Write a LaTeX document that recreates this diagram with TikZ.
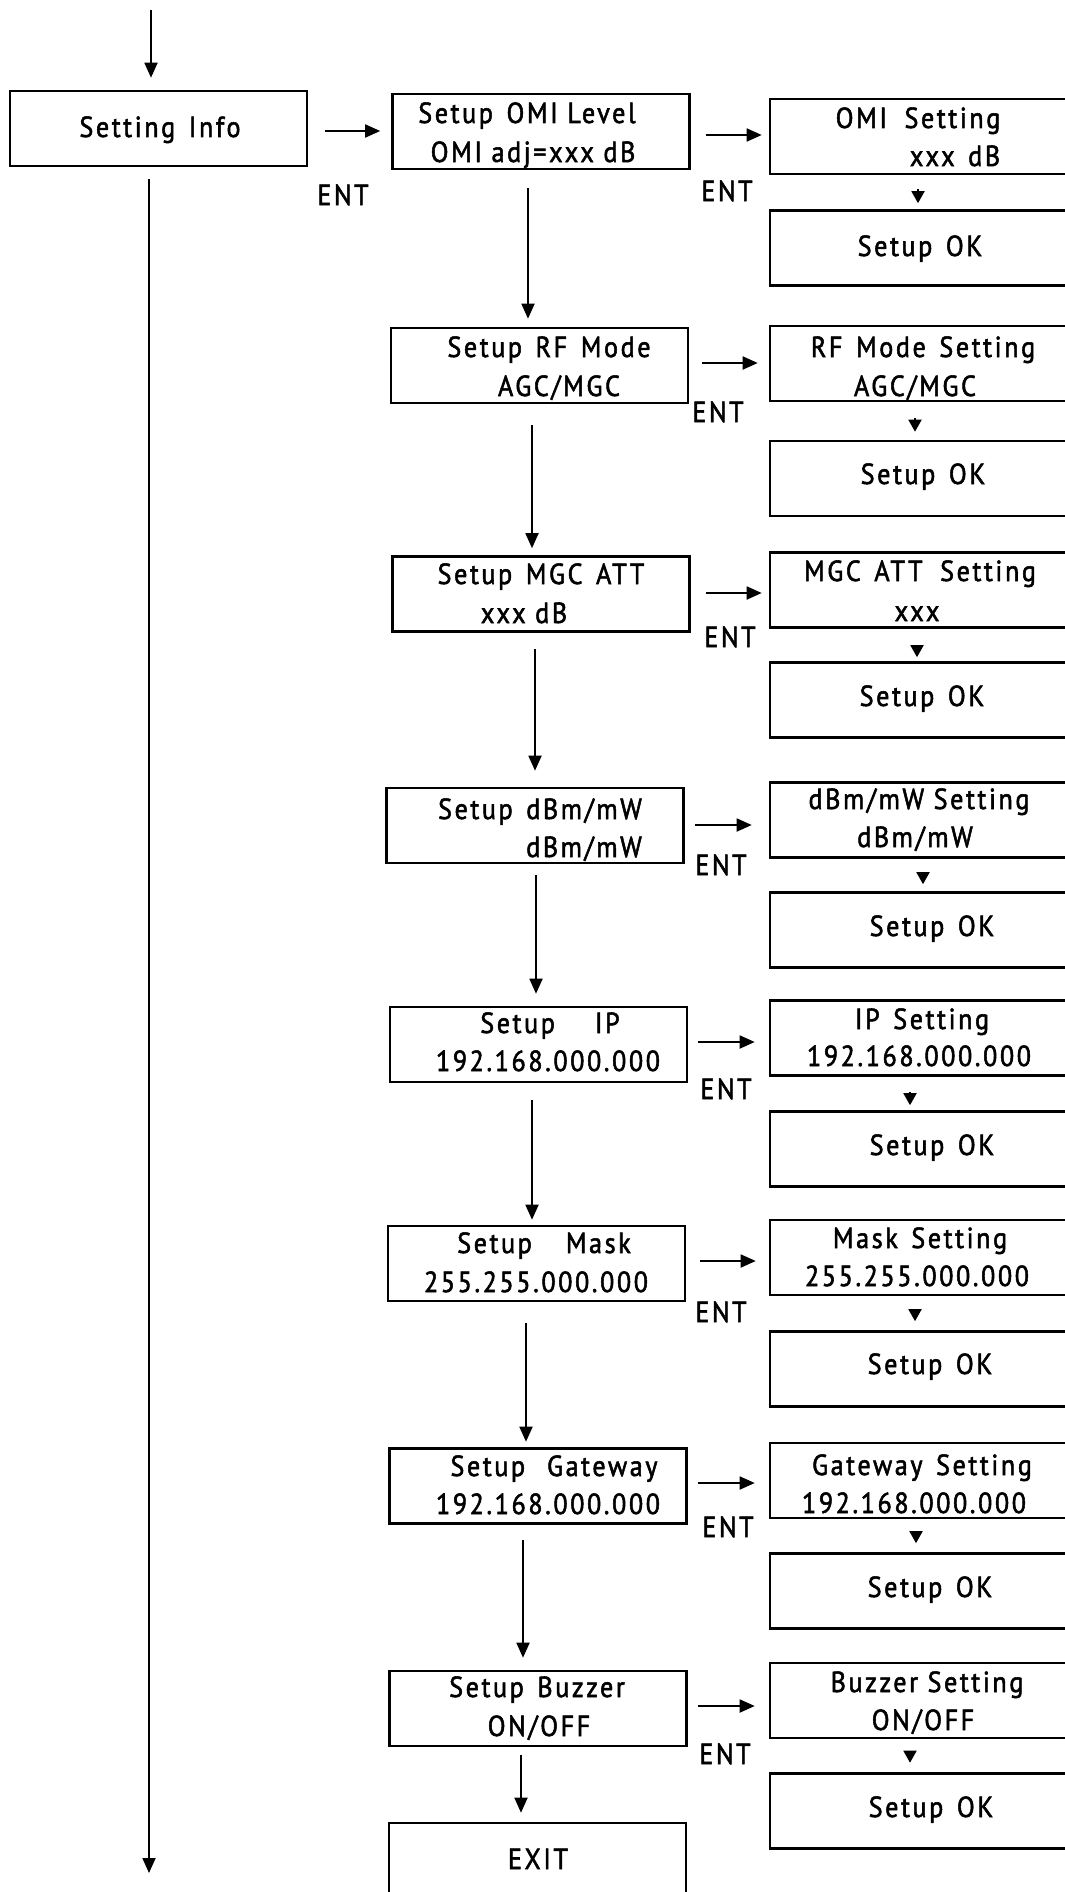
\documentclass[tikz,border=0pt]{standalone}
\usepackage{fontspec}
\setmainfont{PT Sans}[LetterSpace=9,FakeStretch=0.9,FakeBold=1.8]
\usetikzlibrary{arrows.meta}
\newcommand\gp{\hspace{4pt}}
\begin{document}
\begin{tikzpicture}[x=1pt,y=-1pt,
  box/.style={draw, line width=2.6pt, inner sep=0pt, minimum height=75pt},
  lbox/.style={box, minimum width=297pt},
  rbox/.style={box, minimum width=320pt},
  arr/.style={line width=1.8pt, -{Triangle[length=15pt,width=13pt]}},
  sarr/.style={line width=1.8pt, -{Triangle[length=12pt,width=13pt]}},
  txt/.style={anchor=base, inner sep=0pt, font=\fontsize{29}{33}\selectfont},
  ent/.style={txt}]
\useasboundingbox (0,0) rectangle (1065,1892);
\fill[white] (0,0) rectangle (1065,1892);
\clip (0,0) rectangle (1065,1892);

% ---------- left / middle boxes ----------
\node[lbox] (si)   at (158.5,128.5) {};
\node[lbox] (omi)  at (541,131.5) {};
\node[lbox] (rf)   at (539.5,365.5) {};
\node[lbox] (mgc)  at (541,594) {};
\node[lbox] (dbm)  at (535,825.5) {};
\node[lbox] (ip)   at (538.5,1044.5) {};
\node[lbox] (mask) at (536.5,1263.5) {};
\node[lbox] (gw)   at (538,1486) {};
\node[lbox] (buz)  at (538,1708.5) {};
\node[lbox] (exit) at (537.5,1860.5) {};

% ---------- right boxes ----------
\node[rbox] (omis)  at (930,136.5) {};
\node[rbox] (ok1)   at (930,248) {};
\node[rbox] (rfs)   at (930,363.5) {};
\node[rbox] (ok2)   at (930,478.5) {};
\node[rbox] (mgcs)  at (930,590) {};
\node[rbox] (ok3)   at (930,700) {};
\node[rbox] (dbms)  at (930,820) {};
\node[rbox] (ok4)   at (930,930) {};
\node[rbox] (ips)   at (930,1038) {};
\node[rbox] (ok5)   at (930,1149) {};
\node[rbox] (masks) at (930,1257.5) {};
\node[rbox] (ok6)   at (930,1369) {};
\node[rbox] (gws)   at (930,1480.5) {};
\node[rbox] (ok7)   at (930,1591) {};
\node[rbox] (buzs)  at (930,1700.5) {};
\node[rbox] (ok8)   at (930,1811) {};

% ---------- texts ----------
\node[txt] (t-si) at (160,137) {Setting \gp Info};
\node[txt] (t-omi1) at (527,123) {Setup \gp OMI Level};
\node[txt] (t-omi2) at (533,162) {OMI adj=xxx dB};
\node[txt] (t-omis1) at (918,128) {OMI \gp\gp Setting};
\node[txt] (t-omis2) at (955,166) {xxx \gp dB};
\node[txt] (t-ok1) at (920,256) {Setup \gp OK};

\node[txt] (t-rf1) at (549,357) {Setup \gp RF \gp Mode};
\node[txt] (t-rf2) at (559,396) {AGC/MGC};
\node[txt] (t-rfs1) at (923,357) {RF \gp Mode \gp Setting};
\node[txt] (t-rfs2) at (915,396) {AGC/MGC};
\node[txt] (t-ok2) at (923,484) {Setup \gp OK};

\node[txt] (t-mgc1) at (541,584) {Setup \gp MGC \gp ATT};
\node[txt] (t-mgc2) at (524,623) {xxx dB};
\node[txt] (t-mgcs1) at (920,581) {MGC \gp ATT \gp\gp Setting};
\node[txt] (t-mgcs2) at (917,621) {xxx};
\node[txt] (t-ok3) at (922,706) {Setup \gp OK};

\node[txt] (t-dbm1) at (540,819) {Setup \gp dBm/mW};
\node[txt] (t-dbm2) at (584,857) {dBm/mW};
\node[txt] (t-dbms1) at (919,809) {dBm/mW Setting};
\node[txt] (t-dbms2) at (915,847) {dBm/mW};
\node[txt] (t-ok4) at (932,936) {Setup \gp OK};

\node[txt] (t-ip1) at (550,1033) {Setup\hspace{40pt}IP};
\node[txt] (t-ip2) at (548,1071) {192.168.000.000};
\node[txt] (t-ips1) at (922,1029) {IP \gp Setting};
\node[txt] (t-ips2) at (919,1066) {192.168.000.000};
\node[txt] (t-ok5) at (932,1155) {Setup \gp OK};

\node[txt] (t-mask1) at (544,1253) {Setup\hspace{34pt}Mask};
\node[txt] (t-mask2) at (536,1292) {255.255.000.000};
\node[txt] (t-masks1) at (920,1248) {Mask \gp Setting};
\node[txt] (t-masks2) at (917,1286) {255.255.000.000};
\node[txt] (t-ok6) at (930,1374) {Setup \gp OK};

\node[txt] (t-gw1) at (554,1476) {Setup\hspace{22pt}Gateway};
\node[txt] (t-gw2) at (548,1514) {192.168.000.000};
\node[txt] (t-gws1) at (922,1475) {Gateway \gp Setting};
\node[txt] (t-gws2) at (914,1513) {192.168.000.000};
\node[txt] (t-ok7) at (930,1597) {Setup \gp OK};

\node[txt] (t-buz1) at (537,1697) {Setup \gp Buzzer};
\node[txt] (t-buz2) at (539,1736) {ON/OFF};
\node[txt] (t-buzs1) at (927,1692) {Buzzer Setting};
\node[txt] (t-buzs2) at (923,1730) {ON/OFF};
\node[txt] (t-ok8) at (931,1817) {Setup \gp OK};

\node[txt] (t-exit) at (538,1869) {EXIT};

% ---------- ENT labels ----------
\node[ent] (ent1) at (343,205) {ENT};
\node[ent] (ent2) at (727,201) {ENT};
\node[ent] (ent3) at (718,422) {ENT};
\node[ent] (ent4) at (730,647) {ENT};
\node[ent] (ent5) at (721,875) {ENT};
\node[ent] (ent6) at (726,1099) {ENT};
\node[ent] (ent7) at (721,1322) {ENT};
\node[ent] (ent8) at (728,1537) {ENT};
\node[ent] (ent9) at (725,1764) {ENT};

% ---------- connectors ----------
\coordinate (top) at (151,10);
\coordinate (bot) at (149,1873);
\draw[arr, shorten >=12pt] (top) -- (top |- si.north);
\draw[arr, shorten <=12pt] (si.south -| bot) -- (bot);

% horizontal arrows
\draw[arr, shorten <=17pt, shorten >=11pt] ([yshift=-2.5pt]si.east) -- ([yshift=-2.5pt]si.east -| omi.west);
\draw[arr, shorten <=15pt, shorten >=7pt] ([yshift=-3.5pt]omi.east) -- ([yshift=-3.5pt]omi.east -| omis.west);
\draw[arr, shorten <=13pt, shorten >=11pt] ([yshift=2.5pt]rf.east) -- ([yshift=2.5pt]rf.east -| rfs.west);
\draw[arr, shorten <=15pt, shorten >=7pt] ([yshift=1pt]mgc.east) -- ([yshift=1pt]mgc.east -| mgcs.west);
\draw[arr, shorten <=10pt, shorten >=17pt] ([yshift=0.5pt]dbm.east) -- ([yshift=0.5pt]dbm.east -| dbms.west);
\draw[arr, shorten <=10pt, shorten >=14pt] ([yshift=2.5pt]ip.east) -- ([yshift=2.5pt]ip.east -| ips.west);
\draw[arr, shorten <=14pt, shorten >=13pt] ([yshift=2.5pt]mask.east) -- ([yshift=2.5pt]mask.east -| masks.west);
\draw[arr, shorten <=10pt, shorten >=14pt] ([yshift=3pt]gw.east) -- ([yshift=3pt]gw.east -| gws.west);
\draw[arr, shorten <=10pt, shorten >=14pt] ([yshift=2.5pt]buz.east) -- ([yshift=2.5pt]buz.east -| buzs.west);

% vertical arrows, middle column
\draw[arr, shorten <=18pt, shorten >=8pt] ([xshift=-13pt]omi.south) -- ([xshift=-13pt]omi.south |- rf.north);
\draw[arr, shorten <=21pt, shorten >=7pt] ([xshift=-7.5pt]rf.south) -- ([xshift=-7.5pt]rf.south |- mgc.north);
\draw[arr, shorten <=16pt, shorten >=16pt] ([xshift=-6pt]mgc.south) -- ([xshift=-6pt]mgc.south |- dbm.north);
\draw[arr, shorten <=11pt, shorten >=12pt] ([xshift=1pt]dbm.south) -- ([xshift=1pt]dbm.south |- ip.north);
\draw[arr, shorten <=17pt, shorten >=5pt] ([xshift=-6.5pt]ip.south) -- ([xshift=-6.5pt]ip.south |- mask.north);
\draw[arr, shorten <=21pt, shorten >=5.5pt] ([xshift=-10.5pt]mask.south) -- ([xshift=-10.5pt]mask.south |- gw.north);
\draw[arr, shorten <=15pt, shorten >=12pt] ([xshift=-15pt]gw.south) -- ([xshift=-15pt]gw.south |- buz.north);
\draw[arr, shorten <=8pt, shorten >=9pt] ([xshift=-17pt]buz.south) -- ([xshift=-17pt]buz.south |- exit.north);

% small vertical arrows, right column
\draw[sarr, shorten <=14pt, shorten >=6pt] ([xshift=-12pt]omis.south) -- ([xshift=-12pt]omis.south |- ok1.north);
\draw[sarr, shorten <=16pt, shorten >=8pt] ([xshift=-15pt]rfs.south) -- ([xshift=-15pt]rfs.south |- ok2.north);
\draw[sarr, shorten <=17pt, shorten >=4pt] ([xshift=-13pt]mgcs.south) -- ([xshift=-13pt]mgcs.south |- ok3.north);
\draw[sarr, shorten <=14pt, shorten >=7pt] ([xshift=-7pt]dbms.south) -- ([xshift=-7pt]dbms.south |- ok4.north);
\draw[sarr, shorten <=15pt, shorten >=5pt] ([xshift=-20pt]ips.south) -- ([xshift=-20pt]ips.south |- ok5.north);
\draw[sarr, shorten <=13pt, shorten >=9pt] ([xshift=-15pt]masks.south) -- ([xshift=-15pt]masks.south |- ok6.north);
\draw[sarr, shorten <=12pt, shorten >=9pt] ([xshift=-14pt]gws.south) -- ([xshift=-14pt]gws.south |- ok7.north);
\draw[sarr, shorten <=12pt, shorten >=9.5pt] ([xshift=-20pt]buzs.south) -- ([xshift=-20pt]buzs.south |- ok8.north);
\end{tikzpicture}
\end{document}
